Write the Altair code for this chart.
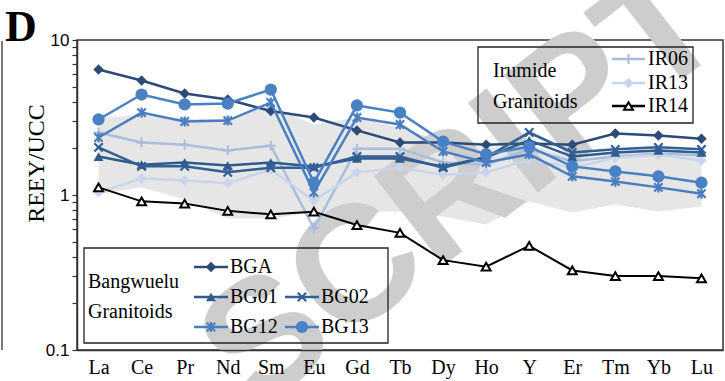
import altair as alt
import pandas as pd

elements = ["La", "Ce", "Pr", "Nd", "Sm", "Eu", "Gd", "Tb", "Dy", "Ho", "Y", "Er", "Tm", "Yb", "Lu"]

BGA  = [6.45, 5.48, 4.52, 4.13, 3.48, 3.16, 2.61, 2.18, 2.18, 2.11, 2.15, 2.11, 2.49, 2.42, 2.31]
BG01 = [1.77, 1.57, 1.62, 1.55, 1.62, 1.53, 1.72, 1.72, 1.53, 1.75, 2.25, 1.77, 1.88, 1.94, 1.88]
BG02 = [2.03, 1.53, 1.53, 1.40, 1.50, 1.50, 1.77, 1.77, 1.50, 1.75, 2.53, 1.88, 1.97, 2.03, 1.97]
BG12 = [2.35, 3.40, 2.98, 3.02, 3.95, 1.04, 3.16, 2.85, 1.91, 1.62, 1.83, 1.32, 1.22, 1.12, 1.02]
BG13 = [3.07, 4.45, 3.84, 3.89, 4.79, 1.20, 3.78, 3.40, 2.21, 1.83, 2.05, 1.53, 1.42, 1.32, 1.20]
IR06 = [2.53, 2.18, 2.11, 1.94, 2.08, 0.61, 1.99, 1.99, 1.62, 1.57, 1.97, 1.65, 1.77, 1.85, 1.80]
IR13 = [1.04, 1.28, 1.24, 1.19, 1.46, 0.92, 1.40, 1.50, 1.35, 1.40, 1.69, 1.50, 1.74, 1.82, 1.67]
IR14 = [1.12, 0.91, 0.88, 0.79, 0.75, 0.78, 0.64, 0.57, 0.38, 0.345, 0.47, 0.326, 0.30, 0.30, 0.29]

band_hi = [3.16, 3.26, 3.11, 3.07, 3.78, 2.85, 3.16, 2.72, 2.21, 2.02, 2.11, 1.75, 1.88, 1.97, 1.82]
band_lo = [1.01, 1.12, 0.935, 0.705, 0.705, 0.771, 0.782, 0.782, 0.727, 0.645, 0.908, 0.771, 0.868, 0.782, 0.843]

series = {"IR06": IR06, "IR13": IR13, "IR14": IR14,
          "BGA": BGA, "BG01": BG01, "BG02": BG02, "BG12": BG12, "BG13": BG13}

XPATH = "M-1,-1L1,1M-1,1L1,-1"
ASTER = "M-1,-1L1,1M-1,1L1,-1M0,-1.2L0,1.2"
PLUS = "M-1.2,0L1.2,0M0,-1.2L0,1.2"

style = {
    "BGA":  dict(color="#2c4b76", shape="diamond", filled=True, size=110, sw=1),
    "BG01": dict(color="#2f5b8d", shape="triangle-up", filled=True, size=100, sw=1),
    "BG02": dict(color="#315f96", shape=XPATH, filled=False, size=70, sw=2.2),
    "BG12": dict(color="#4a7ec0", shape=ASTER, filled=False, size=70, sw=2.2),
    "BG13": dict(color="#4a80c4", shape="circle", filled=True, size=150, sw=1),
    "IR06": dict(color="#a9bddc", shape=PLUS, filled=False, size=70, sw=2),
    "IR13": dict(color="#c9d5ea", shape="diamond", filled=True, size=110, sw=1),
    "IR14": dict(color="#000000", shape="triangle-up", filled=False, size=80, sw=2),
}

rows = []
for name, vals in series.items():
    for e, v in zip(elements, vals):
        rows.append({"series": name, "el": e, "v": v})
df = pd.DataFrame(rows)
band = pd.DataFrame({"el": elements, "hi": band_hi, "lo": band_lo})
one = pd.DataFrame({"a": [0]})

W, H = 646, 310
OX, OY = 77, 40

xenc = alt.X("el:N", sort=elements,
             scale=alt.Scale(type="point", padding=0.5, domain=elements),
             axis=alt.Axis(title=None, ticks=False, labelFont="Liberation Serif",
                           labelFontSize=20, labelColor="black", labelPadding=7,
                           domainColor="#333333", domainWidth=1.5, grid=False, labelAngle=0,
                           zindex=1))
yvals = [0.1, 0.2, 0.3, 0.4, 0.5, 0.6, 0.7, 0.8, 0.9, 1, 2, 3, 4, 5, 6, 7, 8, 9, 10]
yscale = alt.Scale(type="log", domain=[0.1, 10])
yaxis = alt.Axis(values=yvals, grid=False, zindex=1,
                 labelExpr="datum.value == 0.1 ? '0.1' : datum.value == 1 ? '1' : datum.value == 10 ? '10' : ''",
                 labelFont="Liberation Sans", labelFontSize=17, labelColor="black",
                 tickSize=5, tickColor="#333333", tickWidth=1.2, labelPadding=3,
                 domainColor="#333333", domainWidth=1.5,
                 title="REEY/UCC", titleFont="Liberation Serif", titleFontSize=24,
                 titleFontWeight="normal", titleColor="black",
                 titleX=-41, titleY=123, titleAngle=270, titleAlign="center",
                 titleBaseline="middle")
yenc = alt.Y("v:Q", scale=yscale, axis=yaxis)

layers = []

layers.append(alt.Chart(band).mark_area(color="#e6e6e6", opacity=1).encode(
    x=xenc, y=alt.Y("hi:Q", scale=yscale, axis=yaxis), y2="lo:Q"))

layers.append(alt.Chart(one).mark_text(text="SCRIPT", font="Liberation Sans", fontWeight="bold",
                                       fontSize=165, color="#cdcdcd", angle=322,
                                       align="center", baseline="middle").encode(
    x=alt.value(462 - OX), y=alt.value(188 - OY)))

for name in series:
    st = style[name]
    sub = alt.Chart(df).transform_filter(alt.datum.series == name)
    lw = 2 if name == "IR14" else 2.5
    layers.append(sub.mark_line(color=st["color"], strokeWidth=lw).encode(x=xenc, y=yenc))
    if name == "IR14":
        pt = sub.mark_point(shape=st["shape"], filled=True, fill="white", stroke="black",
                            strokeWidth=2, size=st["size"], opacity=1)
    elif st["filled"]:
        pt = sub.mark_point(shape=st["shape"], filled=True, color=st["color"],
                            size=st["size"], opacity=1)
    else:
        pt = sub.mark_point(shape=st["shape"], filled=False, color=st["color"],
                            strokeWidth=st["sw"], size=st["size"], opacity=1)
    layers.append(pt.encode(x=xenc, y=yenc))


def txt(s, px, py, size=20, font="Liberation Serif", weight="normal", align="left"):
    return alt.Chart(one).mark_text(text=s, font=font, fontSize=size, fontWeight=weight,
                                    color="black", align=align, baseline="middle").encode(
        x=alt.value(px - OX), y=alt.value(py - OY))


def box(x1, y1, x2, y2):
    return alt.Chart(one).mark_rect(fill=None, stroke="#222222", strokeWidth=1.3).encode(
        x=alt.value(x1 - OX), x2=alt.value(x2 - OX), y=alt.value(y1 - OY), y2=alt.value(y2 - OY))


def sym(name, x1, x2, py):
    st = style[name]
    out = [alt.Chart(one).mark_rule(color=st["color"], strokeWidth=2.5).encode(
        x=alt.value(x1 - OX), x2=alt.value(x2 - OX), y=alt.value(py - OY))]
    cx = (x1 + x2) / 2
    if name == "IR14":
        p = alt.Chart(one).mark_point(shape=st["shape"], filled=True, fill="white", stroke="black",
                                      strokeWidth=2, size=st["size"], opacity=1)
    elif st["filled"]:
        p = alt.Chart(one).mark_point(shape=st["shape"], filled=True, color=st["color"],
                                      size=st["size"], opacity=1)
    else:
        p = alt.Chart(one).mark_point(shape=st["shape"], filled=False, color=st["color"],
                                      strokeWidth=st["sw"], size=st["size"], opacity=1)
    out.append(p.encode(x=alt.value(cx - OX), y=alt.value(py - OY)))
    return out


# Irumide legend
layers.append(box(478, 47, 693, 123))
layers.append(txt("Irumide", 493, 71))
layers.append(txt("Granitoids", 493, 102))
for name, py in [("IR06", 59), ("IR13", 83), ("IR14", 106)]:
    layers += sym(name, 612, 645, py)
    layers.append(txt(name, 648, py))

# Bangwuelu legend
layers.append(box(84, 248, 388, 343))
layers.append(txt("Bangwuelu", 88, 282))
layers.append(txt("Granitoids", 88, 312))
for name, x1, py in [("BGA", 194, 267), ("BG01", 194, 297), ("BG02", 285, 297),
                     ("BG12", 194, 327), ("BG13", 285, 327)]:
    layers += sym(name, x1, x1 + 34, py)
    layers.append(txt(name, x1 + 36, py))

# panel letter and neighbour frame edge
layers.append(txt("D", 5, 28, size=44, weight="bold"))
layers.append(alt.Chart(one).mark_rule(color="#333333", strokeWidth=1.3).encode(
    x=alt.value(2 - OX), y=alt.value(41 - OY), y2=alt.value(350 - OY)))

chart = alt.layer(*layers).properties(
    width=W, height=H, autosize="none",
    padding={"left": OX, "top": OY, "right": 725 - OX - W, "bottom": 381 - OY - H}
).configure_view(stroke="#333333", strokeWidth=1.5)

chart.save("out.html", embed_options={"renderer": "svg", "actions": False})
